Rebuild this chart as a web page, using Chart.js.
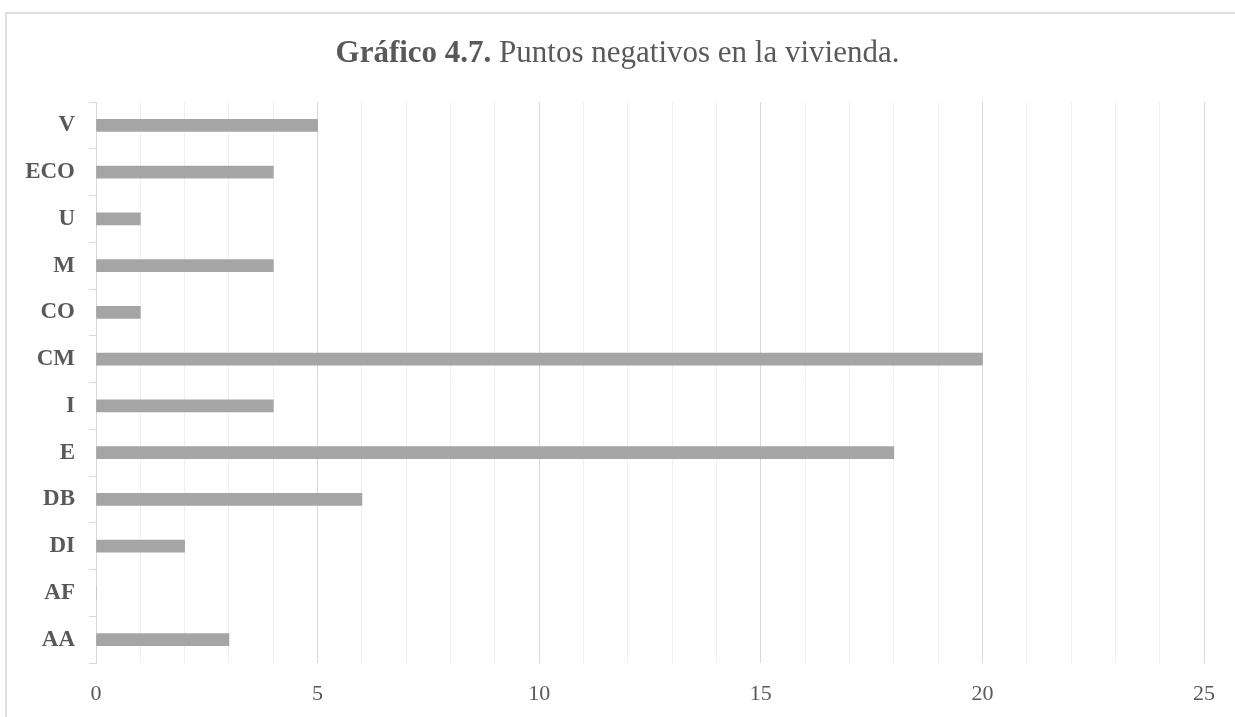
<!DOCTYPE html>
<html>
<head>
<meta charset="utf-8">
<script src="https://cdn.jsdelivr.net/npm/chart.js@4"></script>
<style>
  body { margin: 0; background: #fff; }
  #wrap { position: relative; width: 1235px; height: 717px; }
  #frame { position: absolute; left: 5px; top: 12px; right: -10px; bottom: -10px;
           border-left: 2px solid #dedede; border-top: 2px solid #dedede; }
  #title { position: absolute; left: 0; width: 1235px; top: 35px; line-height: 34px; text-align: center;
           font-family: "Liberation Serif", "DejaVu Serif", serif; font-size: 31px; color: #595959; }
  canvas { position: absolute; left: 0; top: 0; }
</style>
</head>
<body>
<div id="wrap">
  <div id="frame"></div>
  <canvas id="bar_chart" width="1235" height="717"></canvas>
  <div id="title"><b>Gráfico 4.7.</b> Puntos negativos en la vivienda.</div>
</div>
<script>
// categorias de arriba hacia abajo
const categorias = ['V', 'ECO', 'U', 'M', 'CO', 'CM', 'I', 'E', 'DB', 'DI', 'AF', 'AA'];
const valores = [5, 4, 1, 4, 1, 20, 4, 18, 6, 2, 0, 3];
const ejeMin = 0;
const ejeMax = 25;

let ctx = document.getElementById('bar_chart');
let chart = new Chart(ctx, {
    type: 'bar',
    data: {
        labels: categorias,
        datasets: [{
            data: valores,
            backgroundColor: '#a5a5a5',
            barThickness: 12
        }]
    },
    options: {
        indexAxis: 'y',
        responsive: false,
        animation: false,
        layout: { padding: { top: 102, left: 0, right: 31, bottom: 0 } },
        plugins: { legend: { display: false }, tooltip: { enabled: false } },
        scales: {
            y: {
                afterFit: function(scale) { scale.width = 96; },
                border: { display: true, color: '#d9d9d9', width: 1 },
                grid: { drawOnChartArea: false, drawTicks: true, tickLength: 7, color: '#d9d9d9', offset: true },
                ticks: {
                    padding: 14,
                    color: '#595959',
                    font: { family: '"Liberation Serif", serif', size: 23, weight: 'bold' }
                }
            },
            x: {
                min: ejeMin,
                max: ejeMax,
                afterFit: function(scale) { scale.height = 54; },
                border: { display: false },
                grid: {
                    drawTicks: false,
                    color: function(c) { return (c.tick && c.tick.value % 5 === 0) ? '#d9d9d9' : '#f0f0f0'; }
                },
                ticks: {
                    stepSize: 1,
                    autoSkip: false,
                    maxRotation: 0,
                    padding: 18,
                    color: '#595959',
                    font: { family: '"Liberation Serif", serif', size: 22 },
                    callback: function(v) { return v % 5 === 0 ? v : ''; }
                }
            }
        }
    }
});
</script>
</body>
</html>
